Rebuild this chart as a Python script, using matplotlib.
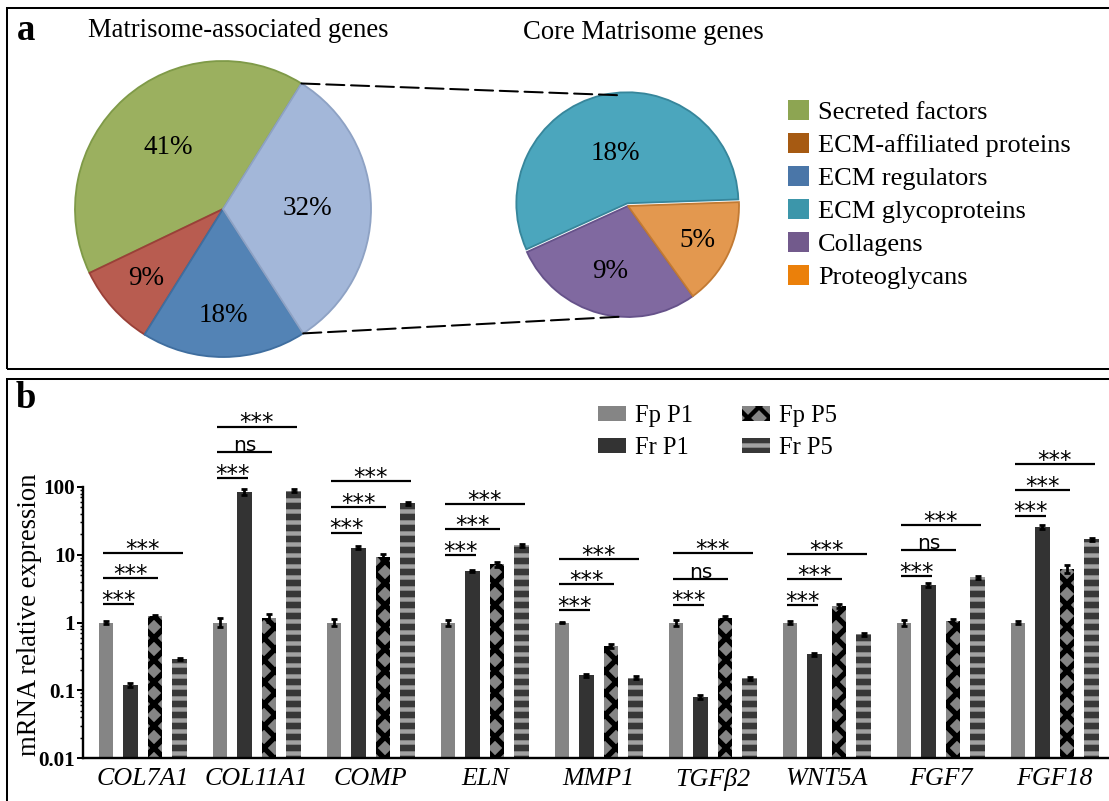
"""Matrisome pie charts (a) and qPCR bar chart on log scale (b)."""
import matplotlib
matplotlib.use("Agg")
import matplotlib.pyplot as plt
import numpy as np
from matplotlib.patches import Patch, Rectangle, ConnectionPatch

W, H, DPI = 1109, 801, 132

plt.rcParams["font.family"] = ["Liberation Serif", "DejaVu Serif"]
plt.rcParams["hatch.linewidth"] = 2.4

# ---- panel a data ----
ASSOC_VALUES = [41, 9, 18, 32]          # secreted, ECM-affiliated, regulators, core
ASSOC_COLORS = ["#9bb05f", "#b85c50", "#5383b5", "#a3b7d9"]
ASSOC_EDGES = ["#7f9a48", "#9a4038", "#3f6e9f", "#8ea2c4"]
CORE_VALUES = [18, 9, 5]                # glycoproteins, collagens, proteoglycans
CORE_COLORS = ["#4ba6bd", "#8069a0", "#e3984f"]
CORE_EDGES = ["#37869b", "#66528a", "#c27a33"]

LEGEND_LABELS = ["Secreted factors", "ECM-affiliated proteins", "ECM regulators",
                 "ECM glycoproteins", "Collagens", "Proteoglycans"]
LEGEND_COLORS = ["#8da552", "#a65a12", "#4a76a8", "#3c96aa", "#725a8c", "#eb800a"]

# ---- panel b data ----
GENES = ["COL7A1", "COL11A1", "COMP", "ELN", "MMP1", "TGF\u03b22", "WNT5A", "FGF7", "FGF18"]
SERIES = ["Fp P1", "Fr P1", "Fp P5", "Fr P5"]
FP_P1 = [1.0, 1.0, 1.0, 1.0, 1.0, 1.0, 1.0, 1.0, 1.0]
FR_P1 = [0.12, 85, 12.7, 5.8, 0.166, 0.080, 0.34, 3.57, 25.9]
FP_P5 = [1.24, 1.17, 9.2, 7.3, 0.455, 1.18, 1.75, 1.06, 6.2]
FR_P5 = [0.29, 88, 58, 13.9, 0.153, 0.15, 0.67, 4.65, 16.9]
FP_P1_ERR = [0.05, 0.15, 0.12, 0.10, 0.03, 0.10, 0.05, 0.10, 0.04]
FR_P1_ERR = [0.008, 8, 0.6, 0.25, 0.01, 0.005, 0.02, 0.2, 2.0]
FP_P5_ERR = [0.06, 0.15, 0.9, 0.6, 0.03, 0.05, 0.10, 0.08, 0.8]
FR_P5_ERR = [0.01, 4, 3, 0.7, 0.008, 0.008, 0.04, 0.2, 0.8]
SIG = [["***", "***", "***"], ["***", "ns", "***"], ["***", "***", "***"],
       ["***", "***", "***"], ["***", "***", "***"], ["***", "ns", "***"],
       ["***", "***", "***"], ["***", "ns", "***"], ["***", "***", "***"]]
BRACKET_BASE = [1.87, 136, 21.2, 9.9, 1.53, 1.84, 1.81, 4.86, 37.7]
BRACKET_STEP = 10 ** 0.378
YTICKS = [0.01, 0.1, 1, 10, 100]
YTICK_LABELS = ["0.01", "0.1", "1", "10", "100"]


def fx(px):
    return px / W


def fy(py):
    return 1 - py / H


def pie_axes(fig, cx, cy, r, lim):
    s = r * lim
    return fig.add_axes([fx(cx - s), fy(cy + s), 2 * s / W, 2 * s / H])


def main():
    fig = plt.figure(figsize=(W / DPI, H / DPI), dpi=DPI, facecolor="white")

    # panel frames
    for y0, y1 in [(8, 369), (379, 806)]:
        fig.add_artist(Rectangle((fx(7), fy(y1)), fx(1115) - fx(7), fy(y0) - fy(y1),
                                 transform=fig.transFigure, fill=False,
                                 edgecolor="black", linewidth=1.1, clip_on=False))

    fig.text(fx(17), fy(40), "a", fontsize=20, fontweight="bold", va="baseline")
    fig.text(fx(16), fy(408), "b", fontsize=20, fontweight="bold", va="baseline")
    fig.text(fx(238), fy(37), "Matrisome-associated genes", fontsize=14.5,
             ha="center", va="baseline")
    fig.text(fx(643), fy(39), "Core Matrisome genes", fontsize=14.5,
             ha="center", va="baseline")

    # ---- pie 1 ----
    lim = 1.05
    ax1 = pie_axes(fig, 223, 209, 148, lim)
    w1, _ = ax1.pie(ASSOC_VALUES, colors=ASSOC_COLORS, startangle=58,
                    counterclock=True, wedgeprops=dict(linewidth=1.0))
    for w, ec in zip(w1, ASSOC_EDGES):
        w.set_edgecolor(ec)
    for w, v, r in zip(w1, ASSOC_VALUES, [0.56, 0.70, 0.72, 0.57]):
        a = np.deg2rad((w.theta1 + w.theta2) / 2)
        ax1.text(r * np.cos(a), r * np.sin(a), f"{v}%", fontsize=14.8,
                 ha="center", va="center")
    ax1.set_xlim(-lim, lim)
    ax1.set_ylim(-lim, lim)

    # ---- pie 2 ----
    ax2 = pie_axes(fig, 628, 206, 111, lim)
    w2, _ = ax2.pie(CORE_VALUES, colors=CORE_COLORS, startangle=2,
                    counterclock=True, explode=[0.025, 0, 0],
                    wedgeprops=dict(linewidth=1.0))
    for w, ec in zip(w2, CORE_EDGES):
        w.set_edgecolor(ec)
    for w, v, r in zip(w2, CORE_VALUES, [0.49, 0.61, 0.70]):
        a = np.deg2rad((w.theta1 + w.theta2) / 2)
        ax2.text(r * np.cos(a), r * np.sin(a), f"{v}%", fontsize=14.8,
                 ha="center", va="center")
    ax2.set_xlim(-lim, lim)
    ax2.set_ylim(-lim, lim)

    # dashed connectors from the core wedge to pie 2
    for ang_a, ang_b in [(w1[3].theta2, 94), (w1[3].theta1, 266)]:
        pa = (np.cos(np.deg2rad(ang_a)), np.sin(np.deg2rad(ang_a)))
        pb = (np.cos(np.deg2rad(ang_b)), np.sin(np.deg2rad(ang_b)))
        fig.add_artist(ConnectionPatch(xyA=pa, coordsA=ax1.transData,
                                       xyB=pb, coordsB=ax2.transData,
                                       color="black", linewidth=1.1,
                                       linestyle=(0, (9, 3.3))))

    handles = [Patch(facecolor=c, edgecolor="none") for c in LEGEND_COLORS]
    fig.legend(handles, LEGEND_LABELS, loc="upper left",
               bbox_to_anchor=(fx(788), fy(100)), frameon=False, fontsize=14.4,
               handlelength=0.8, handleheight=0.8, handletextpad=0.35,
               labelspacing=0.33, borderpad=0, borderaxespad=0)

    # ---- panel b ----
    ax = fig.add_axes([fx(83), fy(758), fx(1109) - fx(83), fy(487) - fy(758)])
    ax.set_facecolor("none")
    x = np.arange(len(GENES))
    step = 0.215
    width = 0.13
    vals = [FP_P1, FR_P1, FP_P5, FR_P5]
    errs = [FP_P1_ERR, FR_P1_ERR, FP_P5_ERR, FR_P5_ERR]
    styles = [dict(color="#858585"),
              dict(color="#333333"),
              dict(facecolor="#858585", edgecolor="black", hatch="xx"),
              dict(facecolor="#383838", edgecolor="#a2a2a2", hatch="--")]
    for j, (v, e, st) in enumerate(zip(vals, errs, styles)):
        xpos = x + (j - 1.5) * step
        bars = ax.bar(xpos, v, width, label=SERIES[j], linewidth=0, zorder=2, **st)
        if j == 2:
            for b in bars:
                if hasattr(b, "set_hatch_linewidth"):
                    b.set_hatch_linewidth(2.9)
        ax.errorbar(xpos, v, yerr=e, fmt="none", ecolor="black", elinewidth=1.5,
                    capsize=1.6, capthick=1.5, zorder=3)

    # significance brackets
    for i, labels in enumerate(SIG):
        x0 = i - 1.5 * step - 0.03
        for k, lab in enumerate(labels):
            yb = BRACKET_BASE[i] * BRACKET_STEP ** k
            x1 = i + (k - 0.5) * step + 0.03
            ax.plot([x0, x1], [yb, yb], color="black", linewidth=1.2,
                    clip_on=False, solid_capstyle="butt")
            if lab == "***":
                ax.annotate(lab, ((x0 + x1) / 2, yb), xytext=(0, -1.5),
                            textcoords="offset points", ha="center", va="baseline",
                            fontsize=12.5, family="DejaVu Sans", annotation_clip=False)
            else:
                ax.annotate(lab, ((x0 + x1) / 2, yb), xytext=(0, 0.5),
                            textcoords="offset points", ha="center", va="baseline",
                            fontsize=11, family="DejaVu Sans", annotation_clip=False)

    ax.set_yscale("log")
    ax.set_ylim(0.01, 100)
    ax.set_xlim(-0.524, 8.476)
    ax.set_yticks(YTICKS)
    ax.set_yticklabels(YTICK_LABELS, fontweight="bold", fontsize=11.5)
    ax.set_xticks(x)
    ax.set_xticklabels(GENES, fontstyle="italic", fontsize=14.2)
    ax.tick_params(axis="x", length=0, pad=5.4)
    ax.tick_params(axis="y", which="major", length=3.2, width=1.1, pad=1)
    ax.tick_params(axis="y", which="minor", length=1.8, width=0.8)
    for s in ["top", "right"]:
        ax.spines[s].set_visible(False)
    for s in ["left", "bottom"]:
        ax.spines[s].set_linewidth(1.3)
    fig.text(fx(30), fy(615), "mRNA relative expression", rotation=90,
             fontsize=14.5, ha="center", va="center")

    ax.legend(ncol=2, loc="upper left", bbox_to_anchor=(fx(598), fy(405)),
              bbox_transform=fig.transFigure, frameon=False, fontsize=13.4,
              handlelength=1.15, handleheight=0.55, handletextpad=0.35,
              columnspacing=2.0, labelspacing=0.4, borderpad=0, borderaxespad=0)

    fig.savefig("out.png", dpi=DPI, facecolor="white")
    plt.close(fig)


if __name__ == "__main__":
    main()
